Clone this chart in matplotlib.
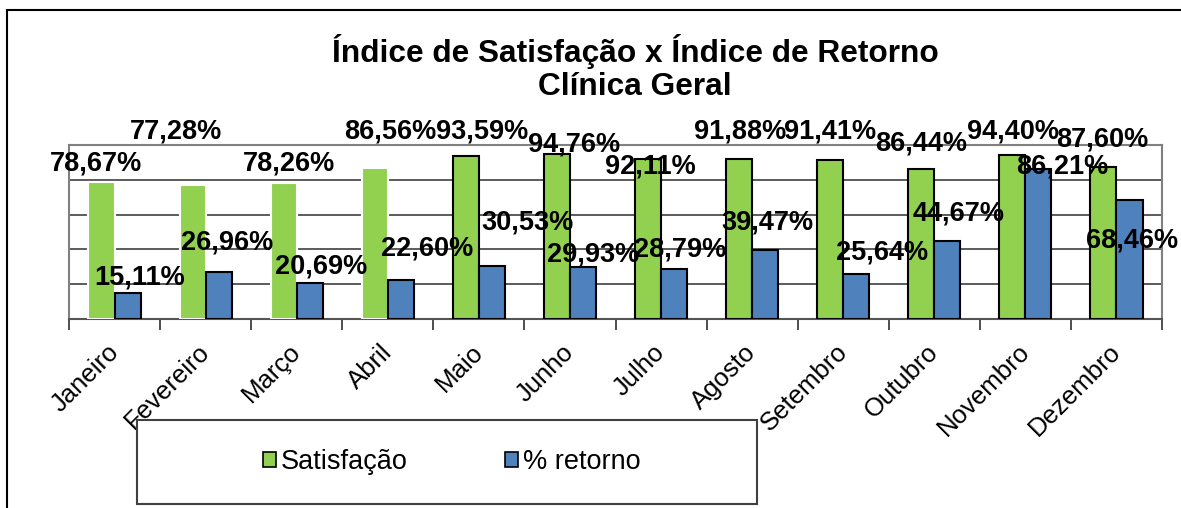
import matplotlib
matplotlib.use('Agg')
import matplotlib.pyplot as plt
import matplotlib.transforms as mtransforms
from matplotlib.patches import Rectangle, Patch
import numpy as np

plt.rcParams['font.family'] = ['Liberation Sans', 'DejaVu Sans']

# dados
meses = ['Janeiro', 'Fevereiro', 'Março', 'Abril', 'Maio', 'Junho', 'Julho',
         'Agosto', 'Setembro', 'Outubro', 'Novembro', 'Dezembro']
satisfacao = [78.67, 77.28, 78.26, 86.56, 93.59, 94.76, 92.11, 91.88, 91.41, 86.44, 94.40, 87.60]
retorno = [15.11, 26.96, 20.69, 22.60, 30.53, 29.93, 28.79, 39.47, 25.64, 44.67, 86.21, 68.46]

# posicao manual dos rotulos (como no Excel)
sat_lab_dx = [-0.20, -0.32, -0.08, 0.03, 0.04, 0.04, -0.12, -0.13, -0.14, -0.14, -0.14, -0.16]
sat_lab_y = [89.1, 107.5, 89.1, 107.5, 107.5, 100.0, 87.4, 107.5, 107.5, 100.6, 108.0, 102.9]
ret_lab_dx = [0.28, 0.24, 0.27, 0.43, 0.53, 0.25, 0.21, 0.17, 0.43, 0.27, 0.41, 0.17]
ret_lab_y = [24.1, 43.7, 29.9, 40.8, 55.2, 36.8, 39.7, 55.7, 38.5, 60.9, 87.9, 45.4]

verde = '#92D050'
azul = '#4F81BD'

W, H = 1181, 508
fig = plt.figure(figsize=(W / 100, H / 100), dpi=100)
ax = fig.add_axes([69 / W, 1 - 319 / H, (1162 - 69) / W, (319 - 145) / H])

x = np.arange(len(meses))
w = 0.286
# primeiros quatro verdes sem contorno preto
sat_edge = ['white'] * 4 + ['black'] * 8
ax.bar(x - w / 2, satisfacao, w, color=verde, edgecolor=sat_edge, linewidth=1.5, zorder=3)
ax.bar(x + w / 2, retorno, w, color=azul, edgecolor='black', linewidth=1.5, zorder=3)

def fmt(v):
    return ('%.2f' % v).replace('.', ',') + '%'

for i in range(len(meses)):
    ax.text(i + sat_lab_dx[i], sat_lab_y[i], fmt(satisfacao[i]), ha='center', va='center',
            fontsize=19.5, fontweight='bold', clip_on=False, zorder=5)
    ax.text(i + ret_lab_dx[i], ret_lab_y[i], fmt(retorno[i]), ha='center', va='center',
            fontsize=19.5, fontweight='bold', clip_on=False, zorder=5)

ax.set_xlim(-0.5, len(meses) - 0.5)
ax.set_ylim(0, 100)
ax.set_yticks([0, 20, 40, 60, 80, 100])
ax.set_yticklabels([])
ax.tick_params(axis='y', length=0)
ax.yaxis.grid(True, color='#404040', linewidth=1.2, zorder=0)

ax.set_xticks(x)
ax.set_xticklabels(meses, rotation=45, ha='right', fontsize=18.5)
ax.set_xticks(np.arange(-0.5, len(meses)), minor=True)
ax.tick_params(axis='x', which='major', length=0, pad=15)
ax.tick_params(axis='x', which='minor', length=8, width=1.3, color='#404040')
offset = mtransforms.ScaledTranslation(9 / 100, 0, fig.dpi_scale_trans)
for lab in ax.get_xticklabels():
    lab.set_transform(lab.get_transform() + offset)

for s in ['top', 'right', 'left']:
    ax.spines[s].set_color('#808080')
    ax.spines[s].set_linewidth(1.5)
ax.spines['bottom'].set_color('#555555')
ax.spines['bottom'].set_linewidth(1.5)

# titulo
fig.text(635 / W, 1 - 68 / H, 'Índice de Satisfação x Índice de Retorno\nClínica Geral',
         ha='center', va='center', fontsize=22.8, fontweight='bold', linespacing=1.15)

# legenda
fig.patches.append(Rectangle((137 / W, 1 - 504 / H), 620 / W, 84 / H, transform=fig.transFigure,
                             facecolor='white', edgecolor='#404040', linewidth=1.5))
handles = [Patch(facecolor=verde, edgecolor='black', linewidth=1.2, label='Satisfação'),
           Patch(facecolor=azul, edgecolor='black', linewidth=1.2, label='% retorno')]
fig.legend(handles=handles, loc='center', bbox_to_anchor=(452 / W, 1 - 462 / H), ncol=2,
           frameon=False, fontsize=19.5, handlelength=0.45, handleheight=0.45,
           handletextpad=0.2, columnspacing=3.6)

# borda da figura
fig.patches.append(Rectangle((7 / W, -0.1), 2, 1.1 - 10 / H, transform=fig.transFigure,
                             facecolor='none', edgecolor='black', linewidth=1.5))

fig.savefig('out.png', dpi=100)
